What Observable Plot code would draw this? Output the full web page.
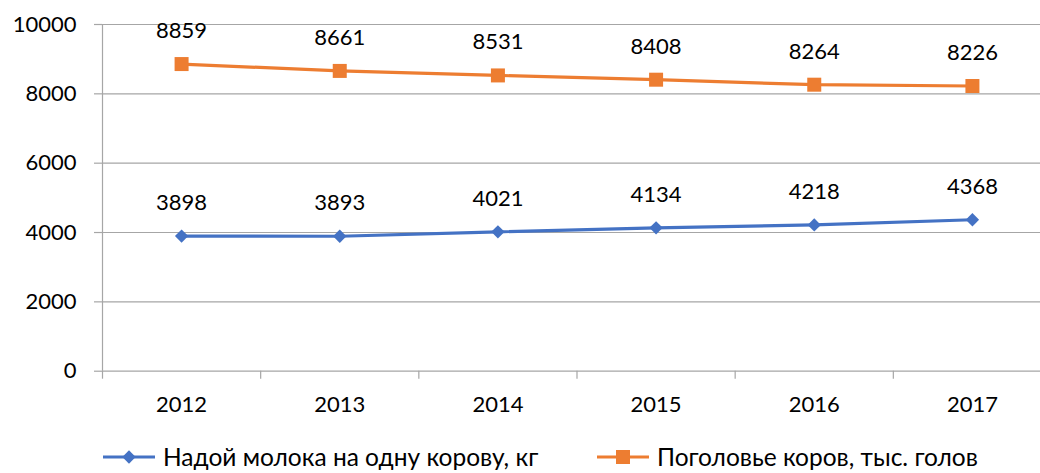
<!DOCTYPE html>
<html><head><meta charset="utf-8">
<script src="https://cdn.jsdelivr.net/npm/d3@7"></script>
<script src="https://cdn.jsdelivr.net/npm/@observablehq/plot@0.6"></script>
<style>
body{margin:0;background:#fff;font-family:Lato,"Noto Sans",sans-serif;}
#wrap{position:relative;width:1040px;height:473px;overflow:hidden;background:#fff}
#legend{position:absolute;top:440px;left:0;width:1040px;height:33px;font-size:24.5px;color:#000}
.item{position:absolute;top:1px;height:32px;display:flex;align-items:center;white-space:nowrap;line-height:28px}
.item svg{margin-right:8px}
</style></head><body>
<div id="wrap"><div id="chart"></div><div id="legend"></div></div>
<script>
const years = [2012, 2013, 2014, 2015, 2016, 2017];
const milkYield = [3898, 3893, 4021, 4134, 4218, 4368];
const cowHerd = [8859, 8661, 8531, 8408, 8264, 8226];
const seriesNames = ["Надой молока на одну корову, кг", "Поголовье коров, тыс. голов"];
const seriesColors = ["#4472c4", "#ed7d31"];
const yTicks = [0, 2000, 4000, 6000, 8000, 10000];

const gray = "#a6a6a6";
const font = "Lato, 'Noto Sans', sans-serif";
const milkData = years.map((y, i) => ({year: y, value: milkYield[i], series: seriesNames[0]}));
const herdData = years.map((y, i) => ({year: y, value: cowHerd[i], series: seriesNames[1]}));
const data = [...milkData, ...herdData];
const boundaries = [...years.map(y => y - 0.5), years[years.length - 1] + 0.5];

const chart = Plot.plot({
  width: 1040,
  height: 440,
  marginLeft: 102,
  marginRight: 0,
  marginTop: 24,
  marginBottom: 69.3,
  style: {fontSize: "22px", fontFamily: font, fontWeight: 400, color: "#000", background: "#fff", overflow: "visible"},
  x: {type: "linear", domain: [years[0] - 0.5, years[years.length - 1] + 0.5], range: [102, 1051]},
  y: {domain: [yTicks[0], yTicks[yTicks.length - 1]]},
  color: {domain: seriesNames, range: seriesColors},
  marks: [
    Plot.gridY(yTicks, {stroke: gray, strokeOpacity: 1, strokeWidth: 1.2}),
    Plot.ruleX([boundaries[0]], {y1: yTicks[0], y2: yTicks[yTicks.length - 1], stroke: gray, strokeWidth: 1.2}),
    Plot.axisY(yTicks, {tickSize: 8, tickFormat: () => "", stroke: gray, strokeWidth: 1.2, label: null}),
    Plot.axisY(yTicks, {tickSize: 0, tickPadding: 26, tickFormat: d => String(d), fill: "#000", label: null}),
    Plot.axisX(boundaries, {tickSize: 8, tickFormat: () => "", stroke: gray, strokeWidth: 1.2, label: null}),
    Plot.axisX(years, {tickSize: 0, tickPadding: 25, tickFormat: d => String(d), fill: "#000", label: null}),
    Plot.line(data, {x: "year", y: "value", z: "series", stroke: "series", strokeWidth: 3.2}),
    Plot.dot(milkData, {x: "year", y: "value", symbol: "diamond2", fill: seriesColors[0], stroke: "none", r: 6}),
    Plot.dot(herdData, {x: "year", y: "value", symbol: "square", fill: seriesColors[1], stroke: "none", r: 7.9}),
    Plot.text(data, {x: "year", y: "value", text: d => String(d.value), dy: -33, fill: "#000", lineAnchor: "middle"})
  ]
});
document.getElementById("chart").appendChild(chart);

const legend = document.getElementById("legend");
const lefts = [103, 597];
seriesNames.forEach((name, i) => {
  const item = document.createElement("div");
  item.className = "item";
  item.style.left = lefts[i] + "px";
  const sw = d3.create("svg").attr("width", 52).attr("height", 20);
  sw.append("line").attr("x1", 0).attr("x2", 52).attr("y1", 10).attr("y2", 10)
    .attr("stroke", seriesColors[i]).attr("stroke-width", 3.2);
  const sym = i === 0 ? d3.symbol(d3.symbolDiamond2, Math.PI * 6 * 6) : d3.symbol(d3.symbolSquare, Math.PI * 7.9 * 7.9);
  sw.append("path").attr("d", sym()).attr("transform", "translate(26,10)").attr("fill", seriesColors[i]);
  item.appendChild(sw.node());
  const t = document.createElement("span");
  t.textContent = name;
  item.appendChild(t);
  legend.appendChild(item);
});
</script>
</body></html>
